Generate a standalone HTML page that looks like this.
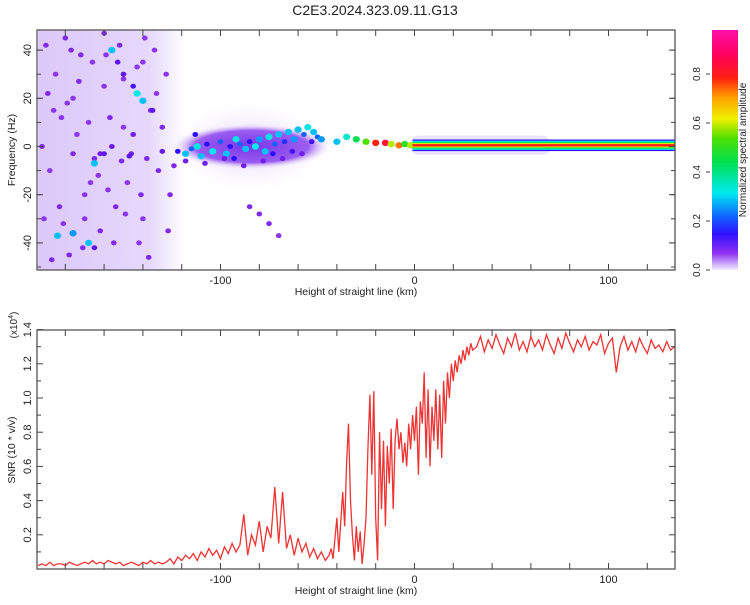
<!DOCTYPE html>
<html><head><meta charset="utf-8"><style>
body{margin:0;background:#fff;width:750px;height:600px;overflow:hidden}
svg text{font-family:"Liberation Sans",sans-serif;fill:#222}
</style></head><body>
<svg id="chart" width="750" height="600" xmlns="http://www.w3.org/2000/svg">
<defs>
<linearGradient id="cmap" x1="0" y1="1" x2="0" y2="0">
<stop offset="0" stop-color="#f2ecff"/><stop offset="0.03" stop-color="#c8a0f8"/><stop offset="0.07" stop-color="#9030f0"/>
<stop offset="0.15" stop-color="#3010ff"/><stop offset="0.22" stop-color="#1060ff"/><stop offset="0.32" stop-color="#00eaf0"/>
<stop offset="0.45" stop-color="#00e050"/><stop offset="0.55" stop-color="#50e000"/><stop offset="0.63" stop-color="#f0f000"/>
<stop offset="0.72" stop-color="#ffa000"/><stop offset="0.8" stop-color="#ff2010"/><stop offset="0.9" stop-color="#ff0060"/><stop offset="1" stop-color="#ff10a8"/>
</linearGradient>
<linearGradient id="hazeL" x1="0" y1="0" x2="1" y2="0">
<stop offset="0" stop-color="#dcc8fa"/><stop offset="0.75" stop-color="#e6d8fb"/><stop offset="1" stop-color="#ffffff"/>
</linearGradient>
<radialGradient id="cloudG"><stop offset="0" stop-color="#7a38e8"/><stop offset="0.7" stop-color="#9a5cf0"/><stop offset="1" stop-color="#ffffff" stop-opacity="0"/></radialGradient>
<radialGradient id="hazeC"><stop offset="0" stop-color="#dcc6fa"/><stop offset="1" stop-color="#ffffff" stop-opacity="0"/></radialGradient>
<clipPath id="topclip"><rect x="37" y="30" width="638" height="240"/></clipPath>
<clipPath id="botclip"><rect x="37" y="330" width="638" height="239"/></clipPath>
</defs>
<text x="375" y="15" font-size="14" text-anchor="middle">C2E3.2024.323.09.11.G13</text>
<g id="heat" clip-path="url(#topclip)"></g>
<g id="topaxes"></g>
<rect x="712" y="30" width="26" height="240" fill="url(#cmap)"/>
<g id="cbar"></g>
<g id="snrline" clip-path="url(#botclip)"></g>
<g id="botaxes"></g>
</svg>
<script>
// ---- spectrogram data ----
const blobHeight=[-190,-185,-180,-176,-172,-168,-165,-160,-156,-152,-148,-145,-140,-136,-132,-128,-188,-183,-178,-174,-170,-162,-154,-150,-142,-138,-134,-126,-192,-186,-166,-130,-146,-162,-176,-182,-158,-170,-150,-140,-124,
-160,-156,-153,-150,-145,-143,-140,-135,-130,-184,-176,-168,-165,-165,-160,-147,
-122,-118,-115,-112,-110,-107,-104,-100,-97,-95,-92,-90,-87,-85,-82,-80,-77,-75,-72,-70,-67,-65,-62,-60,-57,-55,-52,-50,-48,-118,-108,-98,-88,-78,-68,-58,-113,-93,-73,-63,-53,
-85,-80,-75,-70,-40,-35,-30,-25,-20,-15,-12,-8,-5,-2,
-189,-181,-173,-163,-157,-149,-141,-133,-187,-179,-171,-159,-151,-143,-137,-191,-177,-167,-155,-139,-127];
const blobFreq=[42,30,45,20,38,10,-5,25,0,42,-15,5,-30,15,-10,30,-10,-25,-45,5,-20,-35,-25,28,-40,-5,40,-20,0,15,35,-2,-3,-3,-3,12,-18,-30,8,35,-8,
47,40,35,30,25,22,19,15,8,-37,-36,-40,-42,-7,-3,-4,
-2,-3,-1,0,-4,1,-2,2,-3,0,3,1,-1,2,0,3,-2,4,1,5,2,6,3,7,5,8,6,4,3,-6,-7,-5,-8,-6,-5,-3,5,-5,-3,-2,2,
-25,-28,-32,-37,2,4,3,2,1.5,1.5,1,0.5,1,0.5,
22,-32,27,-12,12,-28,-20,22,-47,18,-42,38,-6,33,-46,-30,40,-15,-40,45,-35];
const blobAmp=[.12,.1,.12,.1,.12,.1,.12,.1,.15,.12,.1,.14,.1,.12,.12,.1,.1,.12,.12,.1,.1,.12,.12,.1,.1,.12,.1,.12,.12,.1,.1,.15,.14,.14,.12,.1,.1,.1,.1,.1,.12,
.12,.3,.16,.16,.18,.33,.3,.16,.12,.3,.28,.3,.16,.3,.16,.16,
.2,.3,.25,.33,.3,.2,.32,.25,.3,.2,.33,.25,.3,.2,.32,.28,.3,.33,.25,.3,.22,.3,.28,.3,.25,.33,.3,.25,.28,.14,.14,.14,.14,.14,.14,.14,.2,.2,.2,.18,.18,
.12,.12,.12,.1,.3,.35,.45,.55,.8,.85,.6,.75,.5,.6,
.12,.1,.12,.1,.12,.1,.12,.1,.12,.1,.12,.1,.12,.1,.12,.1,.12,.1,.12,.1,.12];
// colormap (amplitude stops)
const cmapStops=[0,0.04,0.08,0.15,0.2,0.26,0.32,0.45,0.55,0.63,0.72,0.8,0.9,1];
const cmapColors=["#f4eeff","#d0b0f8","#9a40f0","#6a18e8","#2a10ff","#1070ff","#00e8f0","#00e050","#50e000","#f0f000","#ffa000","#ff2010","#ff0060","#ff10a8"];
// ---- SNR data (x10^4) ----
const snrCoarseLeft=[0.02,0.03,0.02,0.04,0.02,0.03,0.03,0.02,0.04,0.03,0.02,0.03,0.04,0.03,0.05,0.03,0.04,0.03,0.05,0.04,0.03,0.04,0.02,0.03,0.04,0.03,0.02,0.04,0.03,0.05,0.03,0.04,0.03,
0.04,0.06,0.03,0.07,0.05,0.08,0.06,0.09,0.05,
0.10,0.07,0.12,0.08,0.11,0.06,0.13,0.09,0.15,0.10,
0.14,0.32,0.08,0.20,0.14,0.28,0.10,0.25,0.18,0.48,0.15,
0.45,0.12,0.20,0.08,0.18,0.10,0.15,0.07,0.12,0.06,0.10,0.05];
const snrFine=[0.08,0.12,0.06,0.18,0.30,0.10,0.28,0.45,0.25,0.62,0.85,0.40,0.20,0.05,0.25,0.10,0.22,0.03,0.15,0.30,0.70,1.02,0.55,1.04,0.30,0.05,0.80,0.35,0.75,0.25,0.72,0.50,0.82,0.35,0.75,0.88,0.70,0.80,0.62,0.74,0.60,0.85,0.70,0.90,0.75,0.95,0.55,0.98,0.85,1.15,0.65,1.05,0.60,0.95,0.75,1.05,0.70,1.02,0.65,1.10,0.85,1.15,1.00,1.20,1.10,1.22,1.15,1.25,1.20,1.28,1.22,1.30,1.25,1.32,1.28];
const snrCoarseRight=[1.30,1.36,1.27,1.34,1.29,1.37,1.31,1.26,1.35,1.30,1.38,1.28,1.33,1.27,1.36,1.30,1.34,1.28,1.37,1.31,1.26,1.35,1.29,1.38,1.32,1.27,1.34,1.30,1.36,1.28,1.33,1.31,1.37,1.26,1.32,1.35,1.15,1.30,1.36,1.28,1.33,1.27,1.35,1.30,1.26,1.34,1.29,1.31,1.27,1.33,1.28,1.30];
const heights=[];
for(let h=-194;h<=-46;h+=2) heights.push(h);
for(let h=-44;h<=30;h++) heights.push(h);
for(let h=32;h<=134;h+=2) heights.push(h);
const snr=snrCoarseLeft.concat(snrFine,snrCoarseRight);
const xTicksMajor=[-100,0,100];
const freqTicks=[-40,-20,0,20,40];
const snrTicks=[0.2,0.4,0.6,0.8,1.0,1.2,1.4];
const cbarTicks=[0.0,0.2,0.4,0.6,0.8];

const NS="http://www.w3.org/2000/svg";
function mk(tag,attrs,parent){const e=document.createElementNS(NS,tag);for(const k in attrs)e.setAttribute(k,attrs[k]);parent.appendChild(e);return e;}
const X=h=>414.5+(h)*1.94;
const YF=f=>146.5-f*2.41;
const YS=v=>569-v*171;
const YC=a=>270-a*245;
function hex(c){return[parseInt(c.slice(1,3),16),parseInt(c.slice(3,5),16),parseInt(c.slice(5,7),16)];}
function cmap(a){for(let i=1;i<cmapStops.length;i++){if(a<=cmapStops[i]){const t=(a-cmapStops[i-1])/(cmapStops[i]-cmapStops[i-1]);const c0=hex(cmapColors[i-1]),c1=hex(cmapColors[i]);return"rgb("+c0.map((v,j)=>Math.round(v+(c1[j]-v)*t)).join(",")+")";}}return cmapColors[cmapColors.length-1];}

// heatmap
const heat=document.getElementById('heat');
let r=mk('rect',{x:X(-194),y:30,width:X(-118)-X(-194),height:240,fill:'url(#hazeL)'},heat);

r=mk('ellipse',{cx:X(-85),cy:YF(0),rx:(X(-40)-X(-130))/2,ry:50,fill:'url(#hazeC)'},heat);

r=mk('ellipse',{cx:X(-84),cy:YF(0),rx:(X(-42)-X(-126))/2,ry:23,fill:'url(#cloudG)'},heat);

r=mk('rect',{x:X(-2),y:YF(4.5),width:X(70)-X(-2),height:YF(-3.5)-YF(4.5),fill:'#ece2fc',rx:8},heat);

for(let i=0;i<blobHeight.length;i++){
  const a=blobAmp[i];
  const e=mk('ellipse',{cx:X(blobHeight[i]),cy:YF(blobFreq[i]),rx:a>0.25?3.6:2.8,ry:a>0.25?3.2:2.5,fill:cmap(a)},heat);
  
  
}
const bandLayers=[[2.4,0.2],[1.9,0.32],[1.4,0.45],[0.9,0.63],[0.5,0.82]];
bandLayers.forEach(([w,a])=>{const e=mk('rect',{x:X(-1),y:YF(0.5+w),width:X(134)-X(-1),height:YF(0.5-w)-YF(0.5+w),fill:cmap(a)},heat);
  
  });

function axes(g,top,bot,yTicks,Y,yfmt,name){
  const G=document.getElementById(g);
  const fr=mk('rect',{x:37,y:top,width:638,height:bot-top,fill:'none',stroke:'#555','stroke-width':1.3},G);
  
  for(let h=-180;h<=134;h+=20){mk('line',{x1:X(h),x2:X(h),y1:top,y2:top+6,stroke:'#444'},G);mk('line',{x1:X(h),x2:X(h),y1:bot,y2:bot-6,stroke:'#444'},G);}
  xTicksMajor.forEach(h=>{const t=mk('text',{x:X(h),y:bot+14,'font-size':11,'text-anchor':'middle'},G);t.textContent=h;
    });
  const xl=mk('text',{x:356,y:bot+25,'font-size':10.5,'text-anchor':'middle'},G);xl.textContent='Height of straight line (km)';
  
  yTicks.forEach(v=>{const y=Y(v);mk('line',{x1:37,x2:43,y1:y,y2:y,stroke:'#444'},G);mk('line',{x1:675,x2:669,y1:y,y2:y,stroke:'#444'},G);
    const t=mk('text',{x:0,y:0,'font-size':11,'text-anchor':'middle',transform:`translate(31,${y}) rotate(-90)`},G);t.textContent=yfmt(v);
    });
}
axes('topaxes',30,270,freqTicks,YF,v=>v,'spectrogram');
const TA=document.getElementById('topaxes');
for(let f=-50;f<=48;f+=10){mk('line',{x1:37,x2:41,y1:YF(f),y2:YF(f),stroke:'#444'},TA);mk('line',{x1:675,x2:671,y1:YF(f),y2:YF(f),stroke:'#444'},TA);}
let t=mk('text',{x:0,y:0,'font-size':10.5,'text-anchor':'middle',transform:'translate(15,150) rotate(-90)'},TA);t.textContent='Frequency (Hz)';


// colorbar
const CB=document.getElementById('cbar');
cbarTicks.forEach(v=>{const y=YC(v);mk('line',{x1:706,x2:710,y1:y,y2:y,stroke:'#444'},CB);
  const tt=mk('text',{x:0,y:0,'font-size':10,'text-anchor':'middle',transform:`translate(700,${y}) rotate(-90)`},CB);tt.textContent=v.toFixed(1);
  });
t=mk('text',{x:0,y:0,'font-size':10,'text-anchor':'middle',transform:'translate(746,150) rotate(-90)'},CB);t.textContent='Normalized spectral amplitude';


// SNR
axes('botaxes',330,569,snrTicks,YS,v=>v.toFixed(1),'snr');
const BA=document.getElementById('botaxes');
for(let v=0.1;v<1.4;v+=0.2){mk('line',{x1:37,x2:41,y1:YS(v),y2:YS(v),stroke:'#444'},BA);mk('line',{x1:675,x2:671,y1:YS(v),y2:YS(v),stroke:'#444'},BA);}
t=mk('text',{x:0,y:0,'font-size':10.5,'text-anchor':'middle',transform:'translate(15,450) rotate(-90)'},BA);t.textContent='SNR (10 * v/v)';

t=mk('text',{x:0,y:0,'font-size':10,'text-anchor':'middle',transform:'translate(17,325) rotate(-90)'},BA);t.innerHTML='(x10<tspan dy="-4" font-size="7">4</tspan><tspan dy="4">)</tspan>';

const SL=document.getElementById('snrline');
const pl=mk('polyline',{points:heights.map((h,i)=>X(h).toFixed(1)+','+YS(snr[i]).toFixed(1)).join(' '),fill:'none',stroke:'#ee3333','stroke-width':1.3},SL);


</script>
</body></html>
